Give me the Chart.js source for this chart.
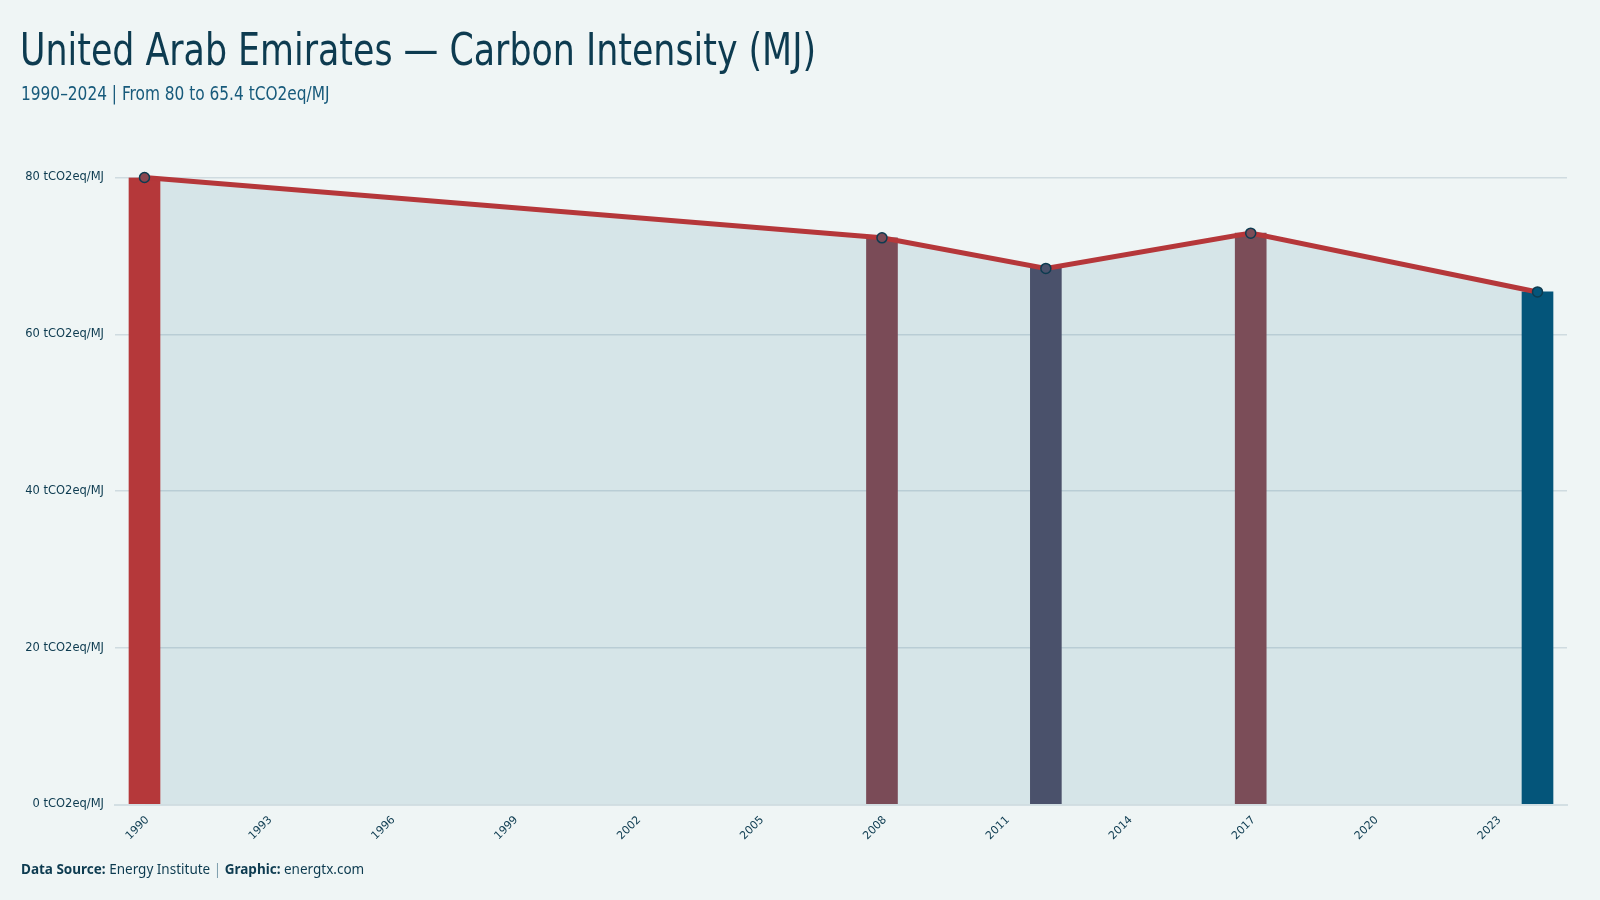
<!DOCTYPE html>
<html>
<head>
<meta charset="utf-8">
<script src="https://cdn.jsdelivr.net/npm/chart.js@4.4.1/dist/chart.umd.min.js"></script>
<style>
  html, body { margin:0; padding:0; background:#eff5f5; }
  #wrap { position:relative; width:1600px; height:900px; overflow:hidden; }
  #c { position:absolute; left:0; top:0; }
  .title { position:absolute; left:20px; top:23px; font-family:"DejaVu Sans Condensed","DejaVu Sans",sans-serif; font-size:45px; color:#0d3b50; white-space:nowrap; transform:scaleX(0.86); transform-origin:0 0; }
  .sub { position:absolute; left:21px; top:82px; font-family:"DejaVu Sans Condensed","DejaVu Sans",sans-serif; font-size:19px; color:#175a7b; white-space:nowrap; transform:scaleX(0.9); transform-origin:0 0; }
  .foot { position:absolute; left:21px; top:860px; font-family:"Noto Sans",sans-serif; font-size:13.5px; color:#0d3b50; white-space:nowrap; }
  .foot b { font-weight:700; }
  .foot .sep { color:#7f9fae; }
</style>
</head>
<body>
<div id="wrap">
  <canvas id="c" width="1600" height="900"></canvas>
  <div class="title">United Arab Emirates — Carbon Intensity (MJ)</div>
  <div class="sub">1990–2024 | From 80 to 65.4 tCO2eq/MJ</div>
  <div class="foot"><b>Data Source:</b> Energy Institute <span class="sep">|</span> <b>Graphic:</b> energtx.com</div>
</div>
<script>
const years = [1990, 2008, 2012, 2017, 2024];
const values = [80, 72.3, 68.4, 72.9, 65.4];
const barColors = ['#b5383a', '#7a4b57', '#4a516b', '#7b4d58', '#04557a'];
const pointColors = ['#8a4750', '#7a4b57', '#4a516b', '#7b4d58', '#04557a'];
const xTickYears = [1990, 1993, 1996, 1999, 2002, 2005, 2008, 2011, 2014, 2017, 2020, 2023];
const yTickValues = [0, 20, 40, 60, 80];
const unit = 'tCO2eq/MJ';

const points = years.map((y, i) => ({ x: y, y: values[i] }));

new Chart(document.getElementById('c'), {
  data: {
    datasets: [
      {
        type: 'line',
        data: points,
        order: 0,
        clip: false,
        borderColor: '#b5373a',
        borderWidth: 5,
        tension: 0,
        fill: 'origin',
        backgroundColor: 'rgba(4,85,122,0.1)',
        pointRadius: 5,
        pointBackgroundColor: pointColors,
        pointBorderColor: '#0d3b50',
        pointBorderWidth: 1.5
      },
      {
        type: 'bar',
        data: points,
        order: 1,
        backgroundColor: barColors,
        barThickness: 31
      }
    ]
  },
  options: {
    responsive: false,
    animation: false,
    layout: { padding: { top: 177.5, left: 0, right: 33, bottom: 0 } },
    plugins: {
      legend: { display: false },
      tooltip: { enabled: false },
      filler: { drawTime: 'beforeDatasetsDraw' }
    },
    scales: {
      x: {
        type: 'linear',
        offset: false,
        min: 1989.28,
        max: 2024.72,
        afterBuildTicks: (s) => { s.ticks = xTickYears.map(v => ({ value: v })); },
        afterFit: (s) => { s.height = 95.5; },
        grid: { display: false, drawTicks: false },
        border: { display: true, color: '#d3dfe3', width: 2 },
        ticks: {
          minRotation: 45, maxRotation: 45, autoSkip: false,
          padding: 9,
          labelOffset: 3,
          color: '#0d3b50',
          font: { family: 'DejaVu Sans', size: 11 },
          callback: (v) => String(v)
        }
      },
      y: {
        min: 0, max: 80,
        afterBuildTicks: (s) => { s.ticks = yTickValues.map(v => ({ value: v })); },
        afterFit: (s) => { s.width = 115; },
        grid: { color: '#cfdbe0', lineWidth: 1.5, drawTicks: false },
        border: { display: false },
        ticks: {
          padding: 11,
          color: '#0d3b50',
          font: { family: 'DejaVu Sans', size: 11.5 },
          callback: (v) => v + ' ' + unit
        }
      }
    }
  }
});
</script>
</body>
</html>
